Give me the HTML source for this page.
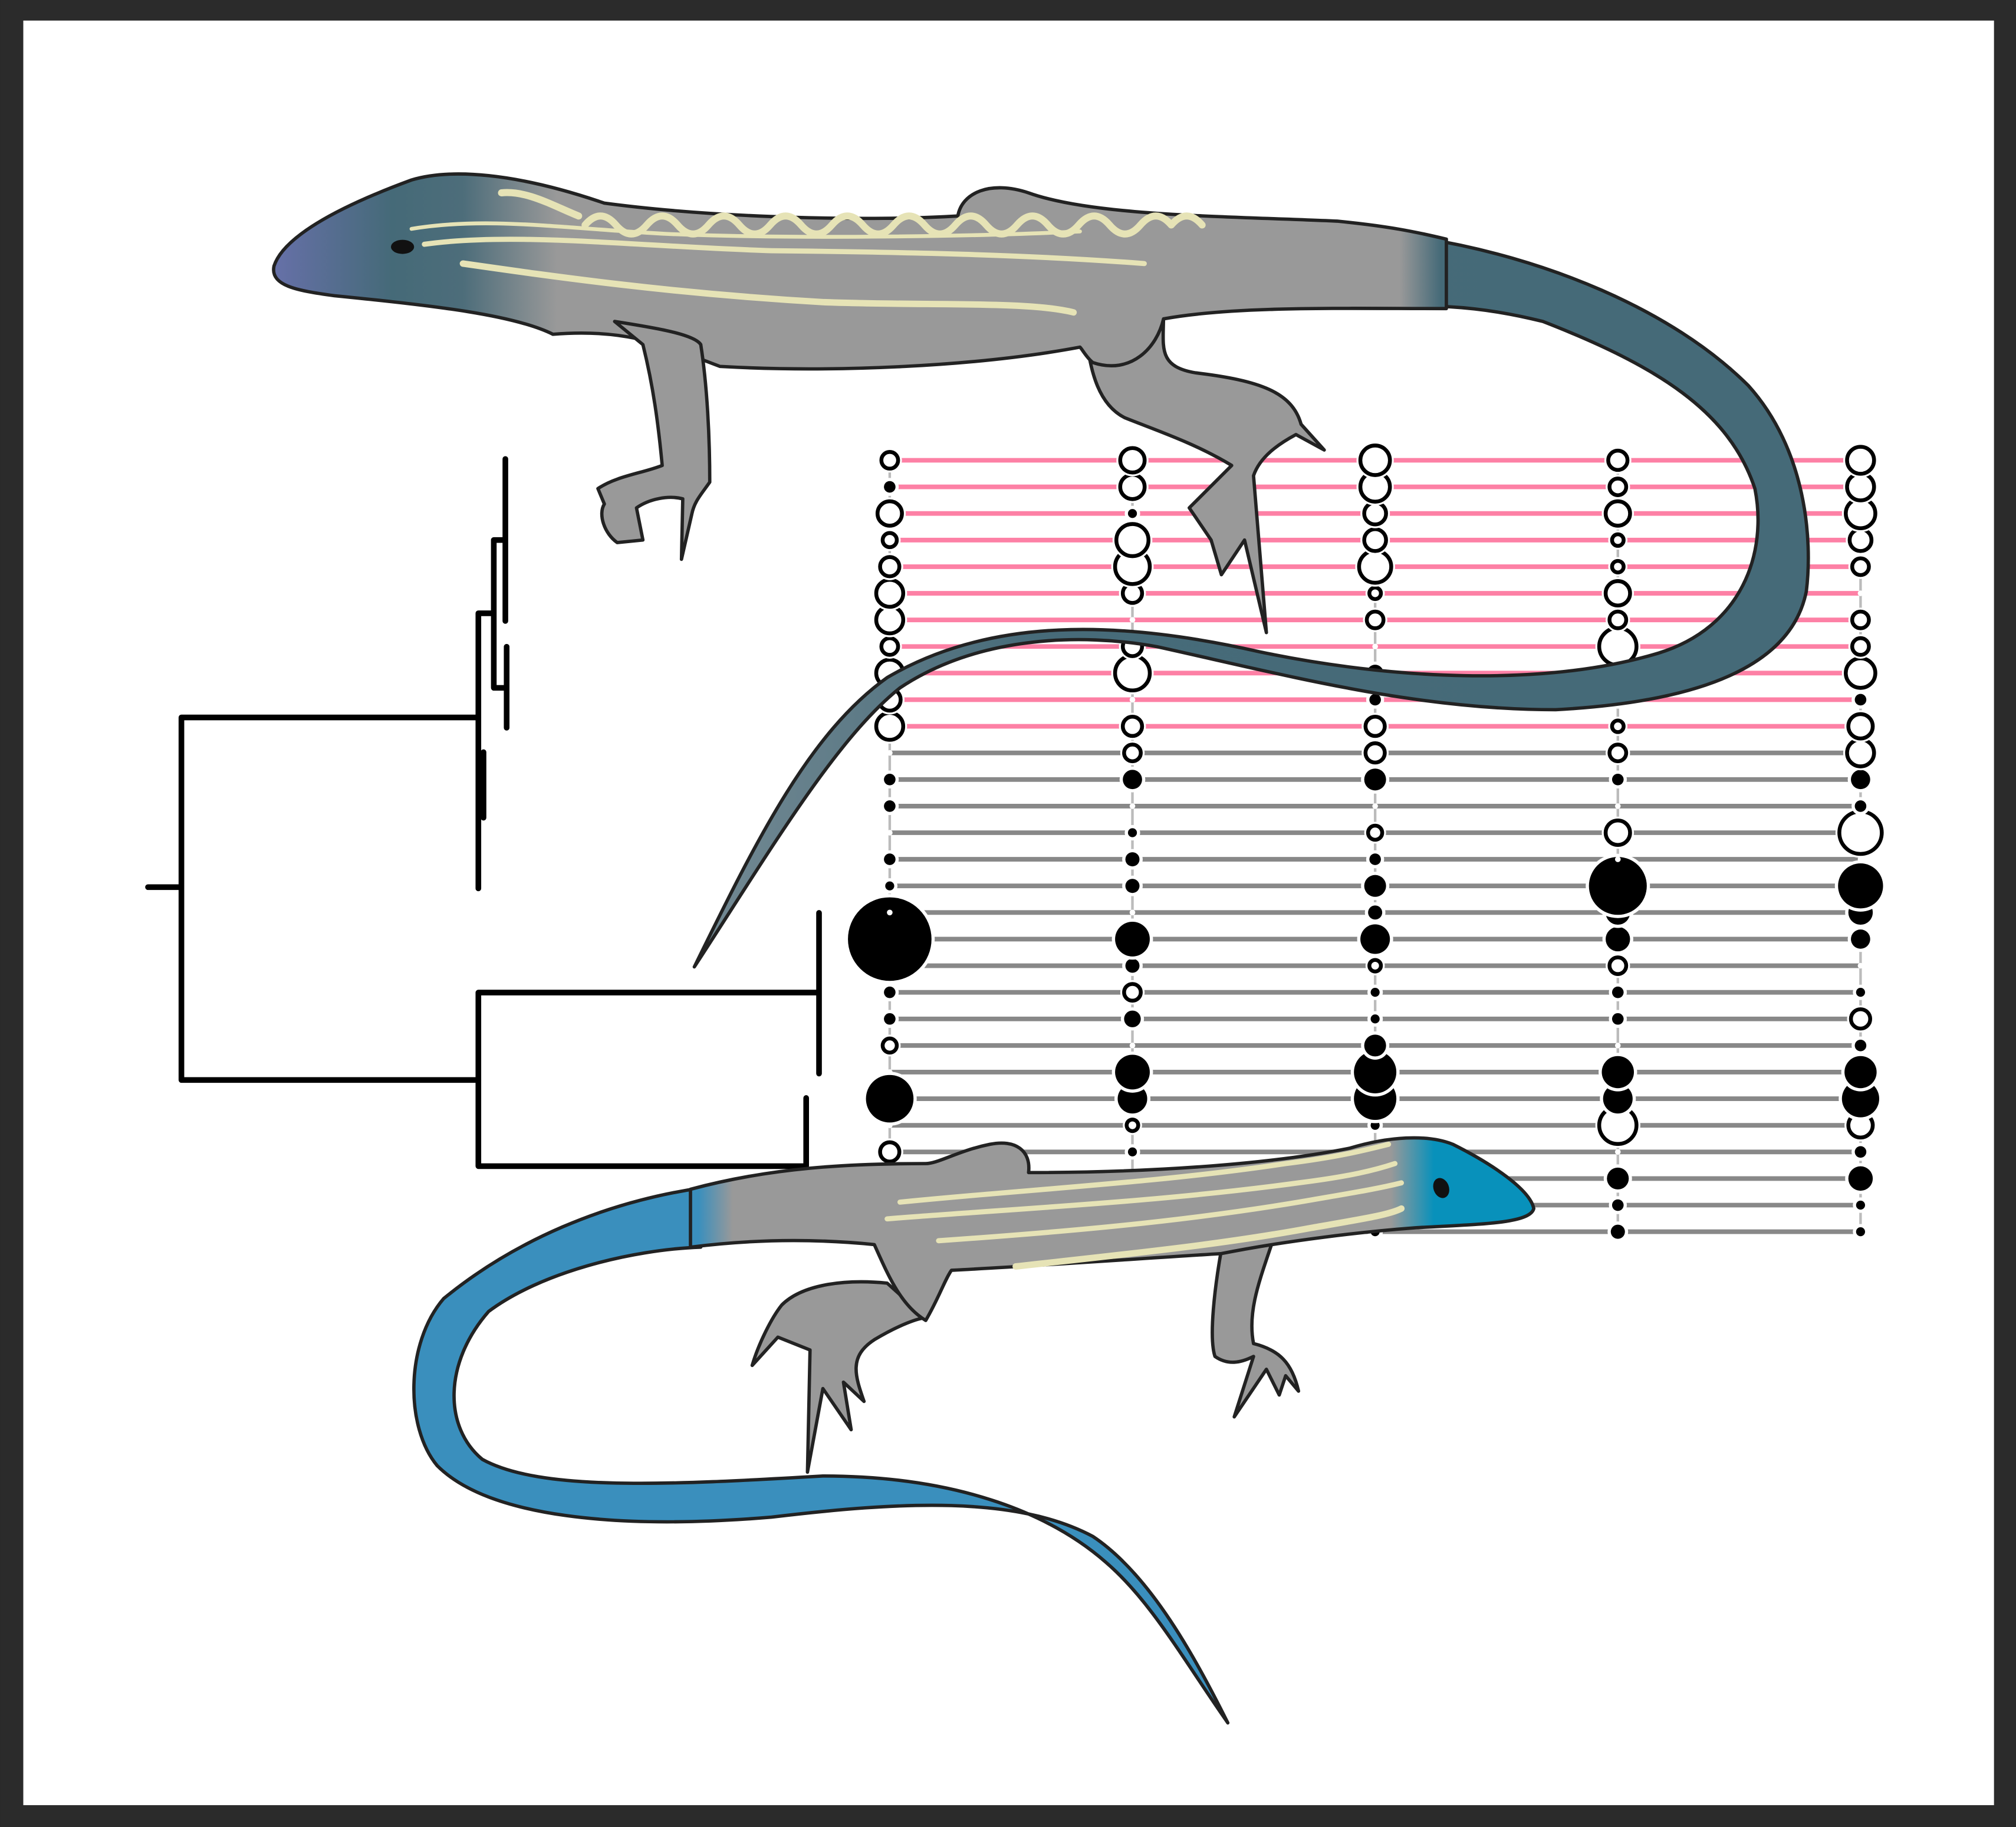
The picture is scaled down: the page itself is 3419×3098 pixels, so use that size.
<!DOCTYPE html>
<html><head><meta charset="utf-8"><style>
html,body{margin:0;padding:0;background:#2b2b2b}
svg{display:block}
</style></head><body>
<svg width="3419" height="3098" viewBox="0 0 1568 1421" xmlns="http://www.w3.org/2000/svg">
<defs>
<linearGradient id="topBody" gradientUnits="userSpaceOnUse" x1="213" y1="0" x2="1130" y2="0">
<stop offset="0" stop-color="#6670a8"/><stop offset="0.1" stop-color="#456a78"/><stop offset="0.16" stop-color="#4d6d7a"/><stop offset="0.24" stop-color="#999"/><stop offset="0.955" stop-color="#999"/><stop offset="0.99" stop-color="#456a78"/></linearGradient>
<linearGradient id="topTail" gradientUnits="userSpaceOnUse" x1="1200" y1="0" x2="540" y2="0">
<stop offset="0" stop-color="#456a78"/><stop offset="0.6" stop-color="#476b79"/><stop offset="1" stop-color="#748a94"/></linearGradient>
<linearGradient id="botBody" gradientUnits="userSpaceOnUse" x1="530" y1="0" x2="1195" y2="0">
<stop offset="0" stop-color="#3a8fbd"/><stop offset="0.02" stop-color="#3a8fbd"/><stop offset="0.06" stop-color="#999"/><stop offset="0.83" stop-color="#999"/><stop offset="0.88" stop-color="#0891bb"/></linearGradient>
</defs>
<rect x="0" y="0" width="1568" height="1421" fill="#2b2b2b"/>
<rect x="18" y="16" width="1533" height="1388" fill="#fff"/>

<g stroke="#000" stroke-width="4.4" fill="none" stroke-linecap="round" stroke-linejoin="miter">
<path d="M115 690 H141 M141 558 V840 M141 558 H372 M141 840 H372"/>
<path d="M372 477 V691 M376 585 V636 M372 477 H384 M384 420 V535 M384 420 H393 M384 535 H393 M393 357 V483 M394 503 V566"/>
<path d="M372 772 V907 M372 772 H637 M372 907 H627 M637 710 V835 M627 854 V907"/>
</g>

<g id="grid"></g>

<g stroke="#222" stroke-width="2.6" stroke-linejoin="round">
<path fill="url(#topTail)" d="M1105 185 C1200 200 1300 240 1360 300 C1405 350 1410 420 1405 460 C1395 510 1340 545 1210 552 C1100 552 1000 525 900 503 C840 492 760 495 700 535 C650 575 600 660 540 752 C590 650 630 570 690 527 C770 480 870 482 980 507 C1080 528 1200 535 1290 508 C1355 488 1375 430 1365 380 C1345 320 1290 285 1200 250 C1160 240 1130 238 1105 238 Z"/>
<path fill="#999" d="M845 262 L905 245 C905 270 900 285 930 290 C980 296 1005 305 1012 330 L1030 350 L1008 338 C995 345 980 355 975 370 L985 492 L968 420 L950 447 L942 420 L925 395 L958 362 C930 345 900 335 875 325 C855 315 848 290 845 262 Z"/>
<path fill="url(#topBody)" d="M213 207 C220 185 260 162 320 140 C350 131 400 134 470 158 C560 170 680 172 745 168 C748 150 770 140 800 150 C850 168 950 168 1040 172 C1080 176 1100 180 1125 186 L1125 240 C1040 240 960 238 905 248 C900 270 880 292 850 282 C845 278 842 272 840 270 C760 285 650 290 560 285 C520 270 490 255 430 260 C400 245 340 238 260 230 C230 226 210 222 213 207 Z"/>
<path fill="#999" d="M478 250 C510 255 540 260 545 268 C550 300 552 340 552 375 C545 385 540 390 538 400 L530 435 L531 388 C520 385 505 388 495 395 L500 420 L480 422 C470 415 465 400 470 392 L465 380 C480 370 500 368 515 362 C512 330 508 300 500 268 Z"/>
<g fill="none" stroke="#e6e3b6" stroke-width="5.5" stroke-linecap="round">
<path d="M390 150 C410 148 430 160 450 168"/>
<path d="M455 175 q12 -14 24 0 t24 0 t24 0 t24 0 t24 0 t24 0 t24 0 t24 0 t24 0 t24 0 t24 0 t24 0 t24 0 t24 0 t24 0 t24 0 t24 0 t24 0 t24 0 q12 -14 24 0"/>
<path d="M330 190 C400 180 500 192 600 195 C700 196 800 198 890 205" stroke-width="4"/>
<path d="M360 205 C430 215 520 228 640 235 C720 238 800 234 835 243" stroke-width="5"/>
<path d="M320 178 C380 168 440 178 520 182 C620 186 760 184 840 180" stroke-width="3"/>
</g>
<ellipse cx="313" cy="192" rx="9" ry="5.5" fill="#111" stroke="none"/>
</g>

<g stroke="#222" stroke-width="2.6" stroke-linejoin="round">
<path fill="#3a8fbd" d="M545 924 C470 935 400 965 345 1010 C315 1045 315 1110 340 1140 C380 1180 480 1190 600 1180 C700 1168 790 1163 850 1195 C895 1225 930 1290 955 1340 C920 1290 895 1245 860 1215 C820 1180 750 1148 640 1148 C520 1155 420 1160 375 1135 C345 1110 345 1060 380 1020 C420 990 490 972 545 970 Z"/>
<path fill="#999" d="M690 998 C660 995 625 998 608 1015 C600 1025 590 1045 585 1062 L605 1040 L630 1050 L628 1145 L640 1080 L662 1112 L656 1075 L672 1090 C665 1070 660 1055 680 1042 C700 1030 715 1025 720 1025 Z"/>
<path fill="#999" d="M950 972 C945 1000 940 1040 945 1055 C955 1062 965 1060 975 1055 L960 1102 L985 1065 L995 1085 L1000 1070 L1010 1082 C1005 1060 995 1050 975 1045 C970 1020 980 995 990 965 Z"/>
<path fill="url(#botBody)" d="M1193 940 C1190 925 1160 905 1130 890 C1110 882 1080 884 1050 893 C990 905 900 912 800 912 C802 895 790 886 770 890 C745 895 730 905 720 905 C660 905 600 908 537 925 L537 970 C600 962 650 965 680 968 C690 990 700 1015 720 1027 C730 1010 735 995 740 988 C800 985 900 978 950 975 C1000 965 1060 958 1100 955 C1150 952 1190 952 1193 940 Z"/>
<g fill="none" stroke="#e6e3b6" stroke-width="4" stroke-linecap="round">
<path d="M700 935 C800 925 900 920 1000 905 C1040 900 1060 895 1080 890"/>
<path d="M690 948 C790 940 900 935 1010 920 C1050 915 1070 910 1085 905"/>
<path d="M730 965 C830 958 920 950 1010 935 C1050 928 1070 925 1090 920"/>
<path d="M790 985 C880 975 950 968 1020 955 C1060 948 1080 945 1090 940" stroke-width="5"/>
</g>
<ellipse cx="1121" cy="924" rx="6" ry="8" fill="#111" stroke="none" transform="rotate(-20 1121 924)"/>
</g>
</svg>
<script>
// per-column sizes: positive = open circle radius, negative = filled circle radius, 0 = tiny white marker
const colA = [5,-3,8,4,6,9,9,5,9,7,9,0,-3,-3,0,-3,-2,0,-31,-2,-3,-3,4,0,-17,0,6,-3,-3,-3];
const colB = [8,8,-2,11,12,6,0,6,12,0,6,5,-6,0,-2,-4,-4,0,-12,-4,5,-5,0,-12,-10,3,-2,-2,-2,-2];
const colC = [10,10,7,7,11,3,5,0,-5,-3,6,6,-7,0,4,-3,-7,-4,-10,3,-2,-2,-7,-15,-15,-2,-2,-2,-2,-2];
const colD = [6,5,8,3,3,8,5,13,-3,-3,3,5,-3,0,8,0,-21,-8,-8,5,-3,-3,0,-11,-10,13,0,-7,-3,-4];
const colE = [9,9,10,7,5,0,5,5,10,-3,8,9,-6,-3,15,0,-16,-8,-6,0,-2,6,-3,-11,-13,8,-3,-8,-2,-2];
const columns = [colA,colB,colC,colD,colE];
const pinkRows = 11;

const NS='http://www.w3.org/2000/svg';
const g=document.getElementById('grid');
const x0=692, dx=188.8, y0=358, dy=20.69;
const xAt=c=>x0+c*dx, yAt=r=>y0+r*dy;
const rScale=v=>Math.abs(v)+1.5;
const nRows=colA.length;
function mk(t,a){const e=document.createElementNS(NS,t);for(const k in a)e.setAttribute(k,a[k]);g.appendChild(e);return e;}
for(let r=0;r<nRows;r++){
  const l=mk('line',{x1:xAt(0),x2:xAt(4),y1:yAt(r),y2:yAt(r),stroke:r<pinkRows?'#fd80a5':'#888','stroke-width':3.6});
  
  
}
for(let c=0;c<columns.length;c++){
  const v=mk('line',{x1:xAt(c),x2:xAt(c),y1:yAt(0),y2:yAt(nRows-1),stroke:'#bbb','stroke-width':2});
  
  
}
for(let c=0;c<columns.length;c++){
  const col=columns[c];
  for(let r=col.length-1;r>=0;r--){
    const val=col[r], cx=xAt(c), cy=yAt(r), rad=rScale(val);
    let e;
    if(val===0){
      e=mk('circle',{cx:cx,cy:cy,r:2.2,fill:'#fff'});
    } else if(val>0){
      mk('circle',{cx:cx,cy:cy,r:rad+3,fill:'#fff'});
      e=mk('circle',{cx:cx,cy:cy,r:rad,fill:'#fff',stroke:'#000','stroke-width':3});
    } else {
      mk('circle',{cx:cx,cy:cy,r:rad+2.5,fill:'#fff'});
      e=mk('circle',{cx:cx,cy:cy,r:rad,fill:'#000'});
    }
    
    
  }
}
</script>
</body></html>
